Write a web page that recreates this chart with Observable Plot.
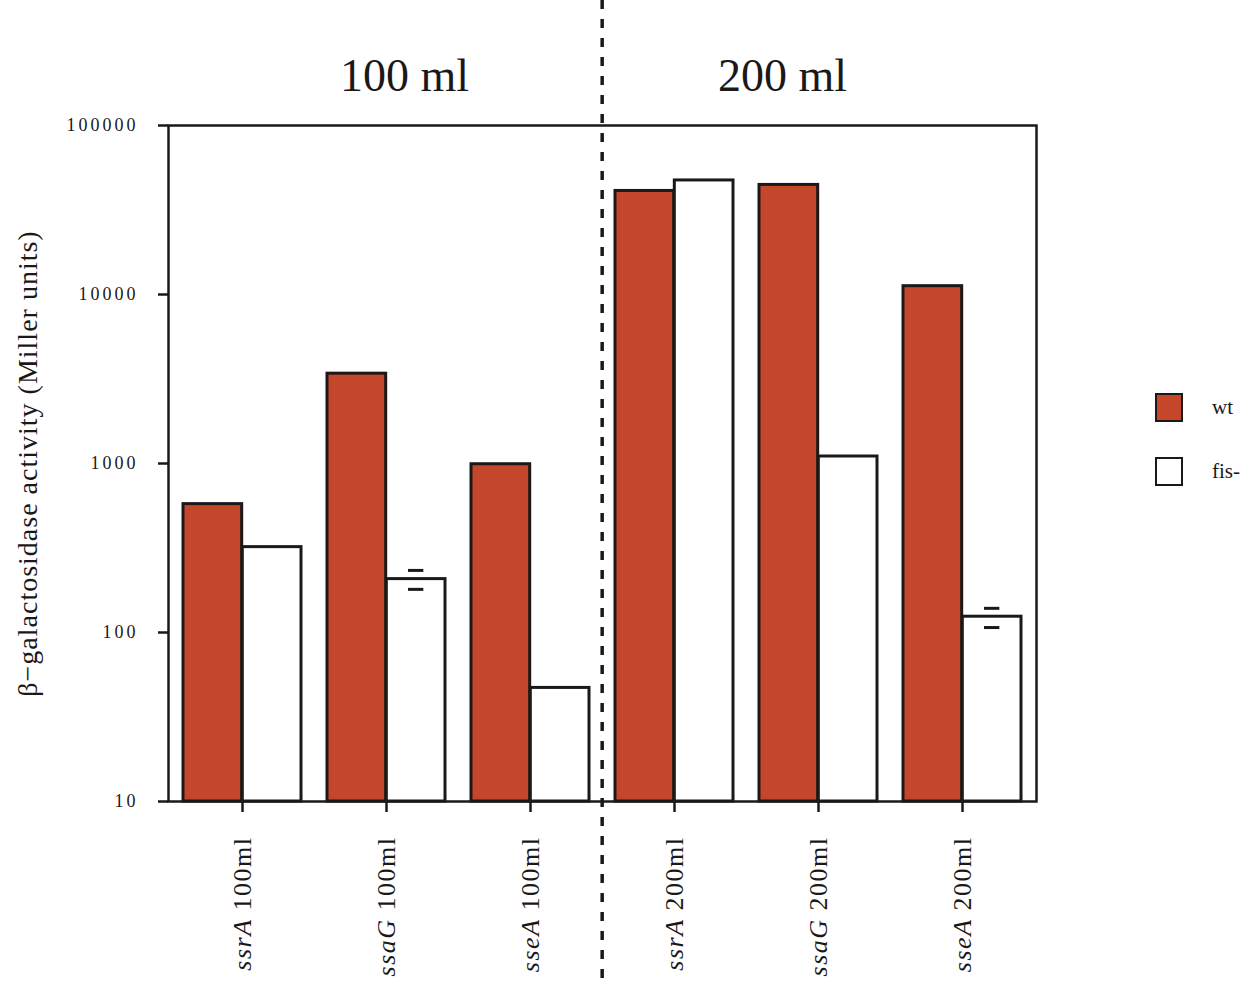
<!DOCTYPE html>
<html><head><meta charset="utf-8">
<script src="https://cdn.jsdelivr.net/npm/d3@7"></script>
<script src="https://cdn.jsdelivr.net/npm/@observablehq/plot@0.6"></script>
<style>
body{margin:0;background:#fff;}
#wrap{position:relative;width:1250px;height:987px;overflow:hidden;background:#fff;}
.lt{position:absolute;font-family:"Liberation Serif",serif;font-size:21px;color:#1c1818;line-height:1;}
.sw{position:absolute;width:24px;height:25px;border:2.5px solid #1c1818;}
</style></head><body><div id="wrap"></div>
<script>
// ---- data ----
const categories = ["ssrA 100ml","ssaG 100ml","sseA 100ml","ssrA 200ml","ssaG 200ml","sseA 200ml"];
const seriesNames = ["wt","fis-"];
const wtValues = [575, 3400, 990, 41000, 44500, 11200];
const fisValues = [320, 207, 47, 47300, 1100, 124];
const errCategories = ["ssaG 100ml","sseA 200ml"];
const errLow = [180, 107];
const errHigh = [233, 139];
const yTicks = [10, 100, 1000, 10000, 100000];
const groupLabels = ["100 ml", "200 ml"];
const yLabel = "β−galactosidase activity (Miller units)";

// ---- layout ----
const W = 1250, H = 987, mL = 168, mR = 214, mT = 125, mB = 186;
const pi = 0.18, po = 0.09;
const step = (W - mL - mR) / (categories.length - pi + 2 * po);
const bw = step * (1 - pi);
const half = bw / 2;
const capHalf = 8;
const ink = "#1c1818", red = "#c4472b";

const data = categories.map((c, i) => ({cat: c, wt: wtValues[i], fis: fisValues[i]}));
const errs = errCategories.map((c, i) => ({cat: c, lo: errLow[i], hi: errHigh[i]}));

const plot = Plot.plot({
  width: W, height: H,
  marginLeft: mL, marginRight: mR, marginTop: mT, marginBottom: mB,
  style: {fontFamily: '"Liberation Serif", serif', background: "#fff", color: ink},
  x: {domain: categories, paddingInner: pi, paddingOuter: po, label: null},
  y: {type: "log", domain: [yTicks[0], yTicks[yTicks.length - 1]], label: null},
  marks: [
    Plot.barY(data, {x: "cat", y1: yTicks[0], y2: "wt", fill: red, stroke: ink, strokeWidth: 3, insetRight: half}),
    Plot.barY(data, {x: "cat", y1: yTicks[0], y2: "fis", fill: "#fff", stroke: ink, strokeWidth: 3, insetLeft: half}),
    Plot.tickY(errs, {x: "cat", y: "lo", stroke: ink, strokeWidth: 3, insetLeft: bw * 0.75 - capHalf, insetRight: bw * 0.25 - capHalf}),
    Plot.tickY(errs, {x: "cat", y: "hi", stroke: ink, strokeWidth: 3, insetLeft: bw * 0.75 - capHalf, insetRight: bw * 0.25 - capHalf}),
    Plot.frame({stroke: ink, strokeWidth: 2.5}),
    Plot.axisY({ticks: yTicks, tickFormat: d => String(d), tickSize: 10, tickPadding: 20, fontSize: 18, strokeWidth: 2.5, label: null}),
    Plot.axisX({tickSize: 11, tickRotate: -90, tickPadding: 24, fontSize: 26, strokeWidth: 2.5, label: null}),
    Plot.ruleX([categories[3]], {x: d => d, dx: -step / 2, stroke: ink, strokeWidth: 3.5, strokeDasharray: "9,10", insetTop: -mT, insetBottom: -mB}),
    Plot.text([groupLabels[0]], {x: () => categories[1], text: d => d, frameAnchor: "top", dy: -67, dx: 18, fontSize: 46, fill: ink}),
    Plot.text([groupLabels[1]], {x: () => categories[4], text: d => d, frameAnchor: "top", dy: -67, dx: -36, fontSize: 46, fill: ink}),
    Plot.text([yLabel], {frameAnchor: "left", textAnchor: "middle", text: d => d, rotate: -90, dx: -140, fontSize: 28, fill: ink})
  ]
});

// italic gene names in x tick labels
d3.select(plot).selectAll('g[aria-label="x-axis tick label"] text').each(function () {
  const t = this.textContent;
  const k = t.indexOf(" ");
  const s = d3.select(this);
  s.text(null);
  s.append("tspan").attr("font-style", "italic").text(t.slice(0, k));
  s.append("tspan").text(t.slice(k));
});
d3.select(plot).selectAll('g[aria-label="x-axis tick label"]').attr("letter-spacing", "1.5px");
d3.select(plot).selectAll('g[aria-label="y-axis tick label"]').attr("letter-spacing", "3px");
d3.select(plot).selectAll('g[aria-label="text"]').filter(function () { return this.textContent === yLabel; }).attr("letter-spacing", "1px");

const wrap = document.getElementById("wrap");
wrap.appendChild(plot);

// legend
const legendTops = [393, 457];
seriesNames.forEach((name, i) => {
  const sw = document.createElement("div");
  sw.className = "sw";
  sw.style.left = "1155px";
  sw.style.top = legendTops[i] + "px";
  sw.style.background = i === 0 ? red : "#fff";
  wrap.appendChild(sw);
  const lt = document.createElement("div");
  lt.className = "lt";
  lt.style.left = "1212px";
  lt.style.top = (legendTops[i] + 4) + "px";
  lt.textContent = name;
  wrap.appendChild(lt);
});
</script>
</body></html>
